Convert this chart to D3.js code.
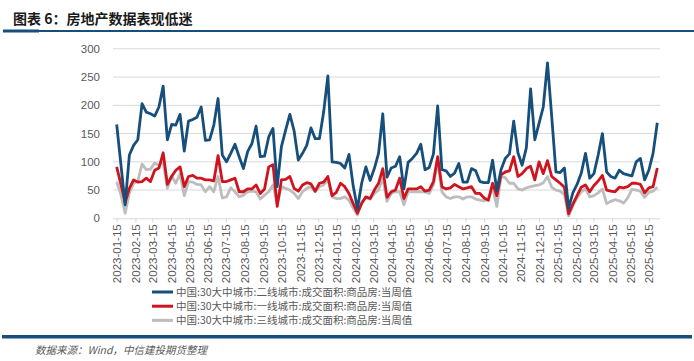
<!DOCTYPE html>
<html>
<head>
<meta charset="utf-8">
<script src="https://cdn.jsdelivr.net/npm/d3@7"></script>
<style>
body { margin: 0; background: #fff; }
svg { display: block; }
</style>
</head>
<body>
<svg id="chart"></svg>
<script>
// weekly data, first week 2023-01-15, last week 2025-06-29
var firstWeek = "2023-01-15";
var lastWeek = "2025-06-29";
var yTicks = [0, 50, 100, 150, 200, 250, 300];
var seriesNames = [
  "中国:30大中城市:二线城市:成交面积:商品房:当周值",
  "中国:30大中城市:一线城市:成交面积:商品房:当周值",
  "中国:30大中城市:三线城市:成交面积:商品房:当周值"
];
var seriesColors = ["#174f7c", "#d0141e", "#bdbdbd"];

var tier2 = [166,95,24,112,129,139,203,188,185,181,197,234,139,166,165,184,119,172,175,179,
  197,138,139,165,212,112,100,115,131,109,88,118,132,163,109,110,144,159,56,127,
  156,184,155,103,115,129,160,141,141,188,252,100,99,97,89,113,57,17,62,91,
  67,88,115,185,73,89,92,109,52,99,106,115,131,86,90,114,199,86,84,74,
  80,97,64,64,88,84,65,63,63,103,49,86,106,114,172,116,94,125,229,139,
  168,197,275,180,82,81,89,18,45,60,80,115,71,79,112,150,82,74,71,85,
  79,77,75,100,106,68,85,115,169];
var tier1 = [91,60,28,53,68,64,65,71,65,85,89,116,60,74,85,91,56,74,76,71,
  71,68,68,66,111,65,65,68,71,47,47,52,52,59,44,52,91,95,21,68,
  69,74,53,48,59,63,61,48,62,64,74,40,46,62,56,44,26,9,26,38,
  35,50,62,88,37,47,50,71,35,52,52,52,56,48,50,65,109,56,52,54,
  60,56,52,54,56,44,44,36,32,62,40,77,82,84,109,74,79,88,92,68,
  100,79,102,74,68,62,55,8,25,40,55,59,47,58,66,76,50,48,47,55,
  54,56,62,62,60,45,54,56,89];
var tier3 = [65,42,9,45,62,66,96,86,87,98,94,99,53,75,62,79,40,65,64,60,
  59,47,56,47,74,36,38,54,47,38,41,47,48,47,34,41,47,59,26,56,
  53,50,44,35,47,53,56,47,56,59,68,38,35,35,38,32,18,6,29,36,
  34,44,50,71,30,44,47,47,24,47,47,47,47,47,44,59,100,47,38,35,
  38,38,34,38,38,34,32,31,34,54,21,74,72,62,62,52,50,54,56,58,
  59,63,74,55,50,48,42,4,22,36,47,52,38,40,45,52,26,30,33,31,
  27,36,51,50,48,37,46,48,55];

var width = 694, height = 361;
var svg = d3.select("#chart")
  .attr("width", width)
  .attr("height", height);

var parse = d3.timeParse("%Y-%m-%d");
var fmt = d3.timeFormat("%Y-%m-%d");
var weeks = d3.timeWeek.range(parse(firstWeek), d3.timeDay.offset(parse(lastWeek), 1));

// title + rule under it
svg.append("text")
  .attr("x", 13).attr("y", 24)
  .attr("font-family", "Noto Sans CJK SC")
  .attr("font-size", 14)
  .attr("font-weight", "bold")
  .attr("fill", "#1a1a1a")
  .text("图表 6：房地产数据表现低迷");
svg.append("rect").attr("x", 3).attr("y", 30).attr("width", 691).attr("height", 2).attr("fill", "#174f7c");
svg.append("rect").attr("x", 3).attr("y", 29.5).attr("width", 36).attr("height", 3).attr("fill", "#174f7c");

var gridLeft = 113, gridRight = 660;
var x = d3.scaleTime()
  .domain([parse(firstWeek), parse(lastWeek)])
  .range([116.7, 657.3]);
var y = d3.scaleLinear()
  .domain([0, 300])
  .range([218.3, 48.8]);

// grid
svg.append("g").selectAll("line")
  .data(yTicks.filter(d => d > 0))
  .enter().append("line")
  .attr("x1", gridLeft).attr("x2", gridRight)
  .attr("y1", d => y(d)).attr("y2", d => y(d))
  .attr("stroke", "#d9d9d9").attr("stroke-width", 1);

// y labels
var yAxisGroup = svg.append("g").attr("transform", `translate(${gridLeft},0)`);
yAxisGroup.call(d3.axisLeft(y).tickValues(yTicks).tickSize(0).tickPadding(13));
yAxisGroup.select(".domain").remove();
yAxisGroup.selectAll("text")
  .attr("font-family", "Liberation Sans, Arial")
  .attr("font-size", 11.5)
  .attr("fill", "#595959");

// x axis, one tick per month on the 15th
var monthTicks = d3.timeMonth.range(parse("2023-01-01"), parse("2025-07-01")).map(d => d3.timeDay.offset(d, 14));
var xAxisGroup = svg.append("g").attr("transform", `translate(0,${y(0)})`);
xAxisGroup.call(d3.axisBottom(x).tickValues(monthTicks).tickSize(4).tickFormat(fmt).tickPadding(3));
xAxisGroup.select(".domain")
  .attr("d", `M${gridLeft},0.5H${gridRight}`)
  .attr("stroke", "#d9d9d9");
xAxisGroup.selectAll(".tick line").attr("stroke", "#d9d9d9");
xAxisGroup.selectAll("text")
  .attr("font-family", "Liberation Sans, Arial")
  .attr("font-size", 11.5)
  .attr("fill", "#595959")
  .attr("text-anchor", "end")
  .attr("dy", "0.35em")
  .attr("transform", "translate(0,6) rotate(-90)")
  .attr("x", 0).attr("y", 0);

// lines, grey first so blue ends on top
var allSeries = [tier2, tier1, tier3];
var line = d3.line()
  .x((d, i) => x(weeks[i]))
  .y(d => y(d));
[2, 1, 0].forEach(function(k) {
  svg.append("path")
    .datum(allSeries[k])
    .attr("fill", "none")
    .attr("stroke", seriesColors[k])
    .attr("stroke-width", 2.8)
    .attr("stroke-linejoin", "round")
    .attr("d", line);
});

// legend
var legend = svg.append("g");
seriesNames.forEach(function(name, k) {
  var ly = 292 + k * 14.2;
  legend.append("line")
    .attr("x1", 152).attr("x2", 173)
    .attr("y1", ly).attr("y2", ly)
    .attr("stroke", seriesColors[k]).attr("stroke-width", 3);
  legend.append("text")
    .attr("x", 176).attr("y", ly + 4)
    .attr("font-family", "Noto Sans CJK SC")
    .attr("font-size", 10.5)
    .attr("fill", "#595959")
    .text(name);
});

// footer
svg.append("rect").attr("x", 2).attr("y", 335).attr("width", 690).attr("height", 3.5).attr("fill", "#174f7c");
svg.append("text")
  .attr("x", 35).attr("y", 354)
  .attr("font-family", "Noto Sans CJK SC")
  .attr("font-size", 10.5)
  .attr("font-style", "italic")
  .attr("fill", "#595959")
  .text("数据来源：Wind，中信建投期货整理");
</script>
</body>
</html>
